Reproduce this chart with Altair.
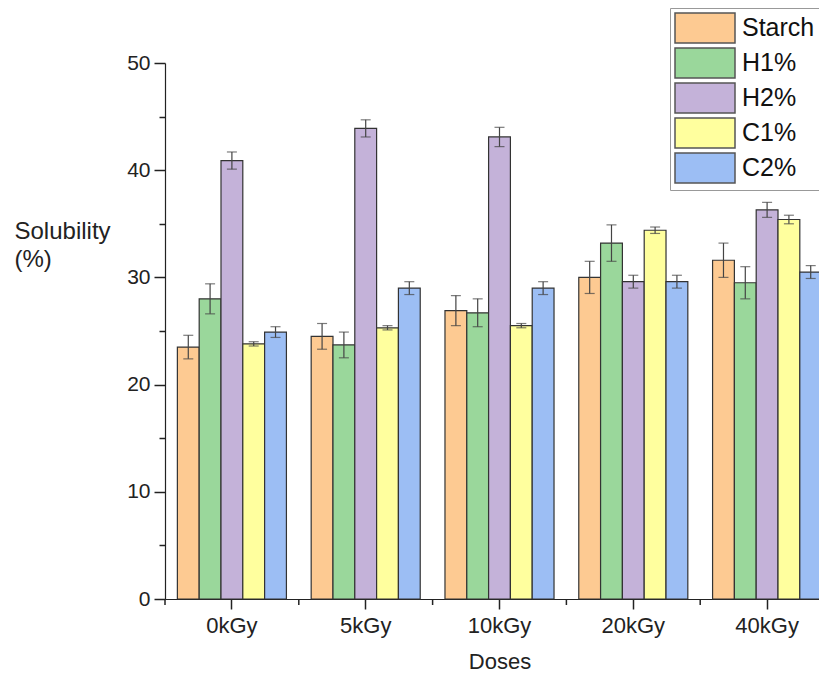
import altair as alt
import pandas as pd

doses = ["0kGy", "5kGy", "10kGy", "20kGy", "40kGy"]
series = ["Starch", "H1%", "H2%", "C1%", "C2%"]
colors = ["#FDCA92", "#9AD79B", "#C4B2D9", "#FFFF9E", "#9CBEF4"]

starch = [23.5, 24.5, 26.9, 30.0, 31.6]
h1 = [28.0, 23.7, 26.7, 33.2, 29.5]
h2 = [40.9, 43.9, 43.1, 29.6, 36.3]
c1 = [23.8, 25.3, 25.5, 34.4, 35.4]
c2 = [24.9, 29.0, 29.0, 29.6, 30.5]

starch_err = [1.1, 1.2, 1.4, 1.5, 1.6]
h1_err = [1.4, 1.2, 1.3, 1.7, 1.5]
h2_err = [0.8, 0.8, 0.9, 0.6, 0.7]
c1_err = [0.2, 0.2, 0.2, 0.3, 0.4]
c2_err = [0.5, 0.6, 0.6, 0.6, 0.6]

vals = [starch, h1, h2, c1, c2]
errs = [starch_err, h1_err, h2_err, c1_err, c2_err]

rows = []
for s, v, e in zip(series, vals, errs):
    for d, vv, ee in zip(doses, v, e):
        rows.append({"dose": d, "series": s, "value": vv, "lo": vv - ee, "hi": vv + ee})
df = pd.DataFrame(rows)
ddf = pd.DataFrame({"dose": doses})

FONT = "Liberation Sans"
W, H = 654, 536

xscale = alt.Scale(domain=doses, paddingInner=0, paddingOuter=0, range=[0, 669])
x = alt.X("dose:N", sort=doses, title="Doses", scale=xscale,
          axis=alt.Axis(labelAngle=0, labelFontSize=22, labelColor="#222", labelFont=FONT,
                        titleFontSize=22, titleFont=FONT, titleColor="#222", titleFontWeight="normal",
                        titlePadding=15, tickSize=10, tickColor="#222", domainColor="#222",
                        labelPadding=6, domainWidth=1.2, tickWidth=1.5))
xo = alt.XOffset("series:N", sort=series, scale=alt.Scale(paddingInner=0, paddingOuter=0.5675))

yscale = alt.Scale(domain=[0, 50], nice=False)

bars = alt.Chart(df).mark_bar(stroke="#333", strokeWidth=1.2).encode(
    x=x,
    xOffset=xo,
    y=alt.Y("value:Q", scale=yscale, title=["Solubility", "(%)"],
            axis=alt.Axis(values=list(range(0, 51, 5)), grid=False,
                          labelExpr="datum.value % 10 === 0 ? datum.label : ''",
                          tickSize={"condition": {"test": "datum.value % 10 === 0", "value": 11}, "value": 6},
                          labelFontSize=21, labelColor="#222", labelFont=FONT, labelPadding=4,
                          tickColor="#222", domainColor="#222", domainWidth=1.2, tickWidth=1.5,
                          titleAngle=0, titleAlign="left", titleBaseline="alphabetic",
                          titleX=-151, titleY=175, titleFontSize=24, titleFont=FONT,
                          titleColor="#222", titleFontWeight="normal", titleLineHeight=28)),
    fill=alt.Fill("series:N", sort=series,
                  scale=alt.Scale(domain=series, range=colors),
                  legend=alt.Legend(title=None, orient="none", legendX=505, legendY=-55,
                                    symbolType="M-1,-1H3V1H-1Z", symbolSize=900,
                                    symbolStrokeColor="#555", symbolStrokeWidth=1.5,
                                    symbolOpacity=1, labelFontSize=25, labelFont=FONT,
                                    labelColor="#111", rowPadding=-1, labelOffset=36,
                                    strokeColor="#999", padding=4, fillColor="white",
                                    labelLimit=200)),
)

rules = alt.Chart(df).mark_rule(color="#444", strokeWidth=1.2).encode(
    x=x, xOffset=xo, y=alt.Y("lo:Q", scale=yscale), y2="hi:Q")

caps_hi = alt.Chart(df).mark_tick(color="#444", thickness=1.2, size=10, orient="horizontal").encode(
    x=x, xOffset=xo, y=alt.Y("hi:Q", scale=yscale))
caps_lo = alt.Chart(df).mark_tick(color="#444", thickness=1.2, size=10, orient="horizontal").encode(
    x=x, xOffset=xo, y=alt.Y("lo:Q", scale=yscale))

minor = alt.Chart(ddf).mark_rule(color="#222", strokeWidth=1.5).encode(
    x=alt.X("dose:N", sort=doses, scale=xscale, bandPosition=0),
    y=alt.value(H), y2=alt.value(H + 6))

chart = alt.layer(bars, rules, caps_hi, caps_lo, minor).properties(
    width=W, height=H,
    autosize=alt.AutoSizeParams(type="none"),
    padding={"left": 157, "top": 55, "right": 0, "bottom": 76},
    background="white",
).configure_view(stroke=None)

chart.save("out.html", embed_options={"renderer": "svg", "actions": False})
